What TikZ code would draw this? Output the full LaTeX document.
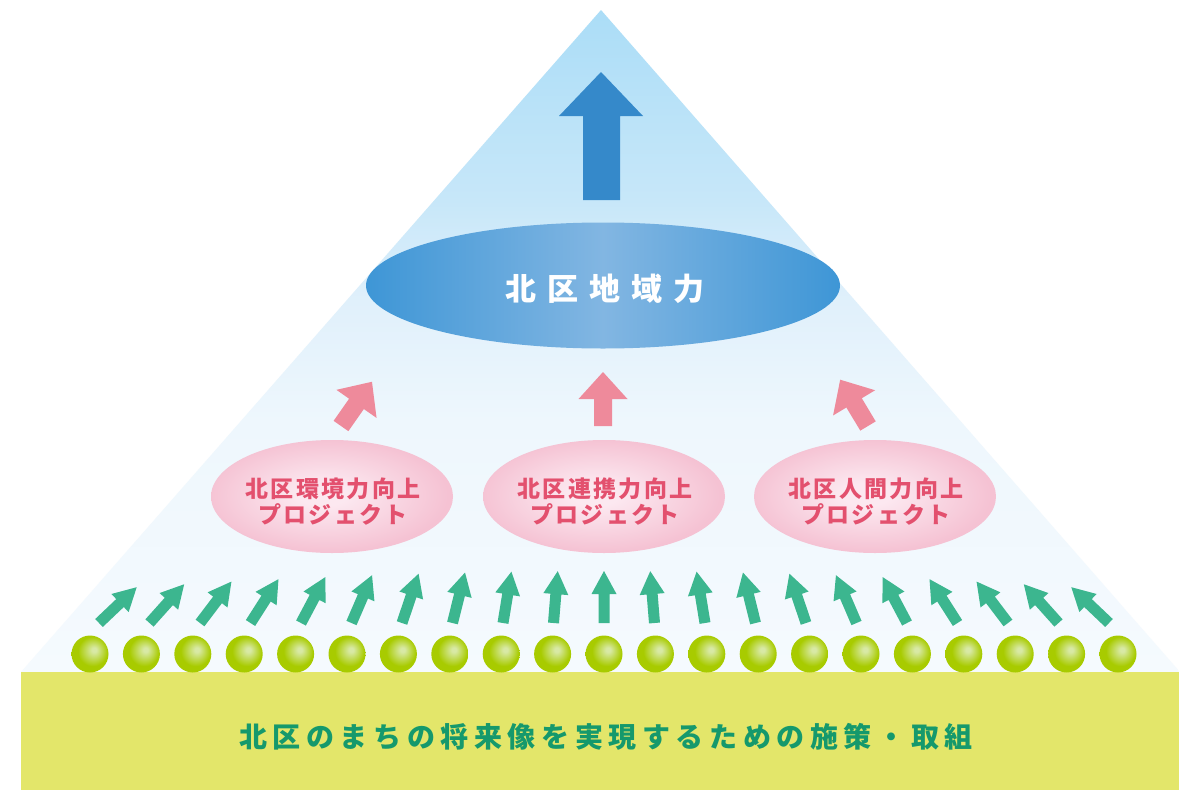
\documentclass[tikz,border=0pt]{standalone}
\usepackage{fontspec}
\newfontfamily\jpMain[LetterSpace=35]{Noto Sans CJK JP}
\newfontfamily\jpPink[LetterSpace=10]{Noto Sans CJK JP}
\newfontfamily\jpBase[LetterSpace=20]{Noto Sans CJK JP}
\usetikzlibrary{shapes.geometric}

\definecolor{triTop}{HTML}{ABDDF7}
\definecolor{triA}{HTML}{C7E7F9}
\definecolor{triB}{HTML}{E0F0FB}
\definecolor{triC}{HTML}{EEF7FD}
\definecolor{triBot}{HTML}{F5FAFE}
\definecolor{ellEdge}{HTML}{3E96D6}
\definecolor{ellMid}{HTML}{82B6E2}
\definecolor{blueArrow}{HTML}{3589CA}
\definecolor{pinkHi}{HTML}{FCE8F0}
\definecolor{pinkEdge}{HTML}{F5C2D3}
\definecolor{pinkText}{HTML}{E3506E}
\definecolor{pinkArrow}{HTML}{EE8A9B}
\definecolor{greenArrow}{HTML}{3CB68F}
\definecolor{ballHi}{HTML}{D8E9A5}
\definecolor{ballBase}{HTML}{A8CB00}
\definecolor{bandCol}{HTML}{E3E66A}
\definecolor{bandText}{HTML}{15996C}

\pgfdeclareverticalshading{triShade}{100bp}{color(0bp)=(triBot); color(25bp)=(triBot); color(44bp)=(triC); color(53bp)=(triB); color(60.6bp)=(triA); color(75bp)=(triTop); color(100bp)=(triTop)}
\pgfdeclarehorizontalshading{ellShade}{100bp}{color(0bp)=(ellEdge); color(25bp)=(ellEdge); color(50bp)=(ellMid); color(75bp)=(ellEdge); color(100bp)=(ellEdge)}
\pgfdeclareradialshading{pinkShade}{\pgfpoint{-2bp}{1bp}}{color(0bp)=(pinkHi); color(5bp)=(pinkHi); color(25bp)=(pinkEdge); color(50bp)=(pinkEdge)}
\pgfdeclareradialshading{ballShade}{\pgfpoint{6bp}{6bp}}{color(0bp)=(ballHi); color(3bp)=(ballHi); color(20bp)=(ballBase); color(50bp)=(ballBase)}

\tikzset{
  mainell/.style={ellipse, inner sep=0pt, minimum width=474pt, minimum height=126pt, shade, shading=ellShade},
  maintext/.style={text=white, font=\jpMain\bfseries\fontsize{31}{36}\selectfont},
  pinkell/.style={ellipse, inner sep=0pt, minimum width=242pt, minimum height=113pt, shade, shading=pinkShade},
  pinktext/.style={text=pinkText, align=center, font=\jpPink\bfseries\fontsize{23}{26}\selectfont},
  ball/.style={circle, inner sep=0pt, minimum size=37pt, shade, shading=ballShade},
  basetext/.style={text=bandText, font=\jpBase\bfseries\fontsize{28}{32}\selectfont},
  greenarrow/.style={fill=greenArrow},
  pinkarrow/.style={fill=pinkArrow},
  bluearrow/.style={fill=blueArrow}
}

\begin{document}
\begin{tikzpicture}[x=1pt,y=-1pt]
\useasboundingbox (0,0) rectangle (1179,790);
\fill[white] (0,0) rectangle (1179,790);

% pyramid
\shade[shading=triShade] (21,672) -- (601,10) -- (1180,672) -- cycle;

% base band
\fill[bandCol] (21,672) rectangle (1179,790);
\node[basetext] (base) at (606,737) {北区のまちの将来像を実現するための施策・取組};

% top arrow
\fill[bluearrow] (583,200) -- (620,200) -- (620,116) -- (643,116) -- (601,72) -- (559,116) -- (583,116) -- cycle;

% main ellipse
\node[mainell] (area) at (603,285.5) {};
\node[maintext] (areaText) at (605,288.5) {北区地域力};

% pink ellipses
\node[pinkell] (envi) at (332,496.5) {};
\node[pinkell] (link) at (604,496.5) {};
\node[pinkell] (human) at (875,496.5) {};
\node[pinktext] (enviText) at (333,502) {北区環境力向上\\プロジェクト};
\node[pinktext] (linkText) at (605,502) {北区連携力向上\\プロジェクト};
\node[pinktext] (humanText) at (876,502) {北区人間力向上\\プロジェクト};

% pink arrows
\foreach \px/\ang in {341/-35, 603/0, 868/31}{
  \fill[pinkarrow, shift={(\px,426)}, rotate=\ang]
    (-9,0) -- (9,0) -- (9,-27) -- (24.5,-27) -- (0,-54) -- (-24.5,-27) -- (-9,-27) -- cycle;
}

% balls and green arrows
\foreach \k in {0,...,20}{
  \node[ball] (b\k) at ({90+51.4*\k},654) {};
  \pgfmathsetmacro{\ang}{-(10-\k)*4.65}
  \pgfmathsetmacro{\dx}{0.9*(10-\k)}
  \fill[greenarrow, shift={(b\k.center)}, shift={(\dx,-31)}, rotate=\ang]
    (-5.5,0) -- (5.5,0) -- (5.5,-29) -- (12.5,-29) -- (0,-54+2) -- (-12.5,-29) -- (-5.5,-29) -- cycle;
}
\end{tikzpicture}
\end{document}
